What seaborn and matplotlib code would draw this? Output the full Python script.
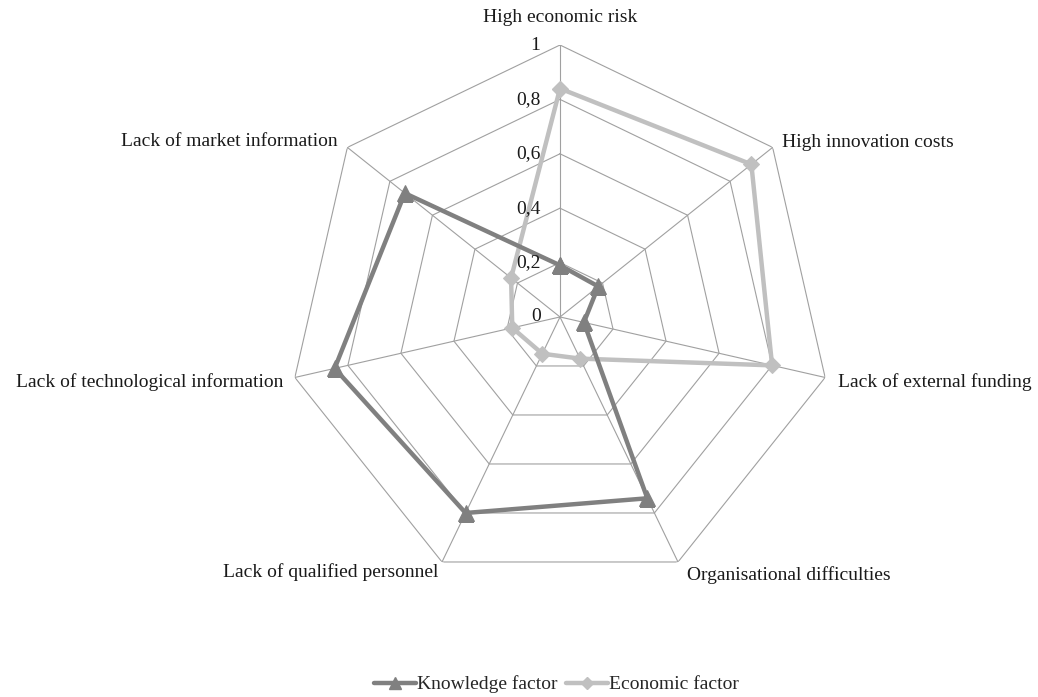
import numpy as np
import pandas as pd
import matplotlib
matplotlib.use("Agg")
import matplotlib.pyplot as plt
import seaborn as sns
from matplotlib.lines import Line2D

categories = ["High economic risk", "High innovation costs", "Lack of external funding",
              "Organisational difficulties", "Lack of qualified personnel",
              "Lack of technological information", "Lack of market information"]
knowledge = [0.19, 0.18, 0.09, 0.74, 0.80, 0.85, 0.73]
economic = [0.84, 0.90, 0.80, 0.17, 0.15, 0.18, 0.23]
series_names = ["Knowledge factor", "Economic factor"]
tick_values = [0, 0.2, 0.4, 0.6, 0.8, 1.0]
tick_labels = ["0", "0,2", "0,4", "0,6", "0,8", "1"]

sns.set_style("white")
plt.rcParams['font.family'] = ['Liberation Serif', 'DejaVu Serif']

n = len(categories)
angles = np.linspace(0, 2 * np.pi, n, endpoint=False)
ang_closed = np.append(angles, angles[0] + 2 * np.pi)

rows = []
for name, vals in zip(series_names, [knowledge, economic]):
    closed = list(vals) + [vals[0]]
    for i, (a, v) in enumerate(zip(ang_closed, closed)):
        rows.append({"series": name, "theta": a, "value": v, "order": i})
df = pd.DataFrame(rows)

fig = plt.figure(figsize=(10.38, 6.97), dpi=100)
ax = fig.add_axes([0.2775, 0.155, 0.524, 0.7805], projection='polar')
ax.set_theta_zero_location('N')
ax.set_theta_direction(-1)
ax.set_ylim(0, 1)
ax.grid(False)
ax.spines['polar'].set_visible(False)

grid_c = "#a0a0a0"
for lv in tick_values[1:]:
    ax.plot(ang_closed, [lv] * (n + 1), color=grid_c, lw=0.8, zorder=1)
for a in angles:
    ax.plot([a, a], [0, 1], color=grid_c, lw=0.8, zorder=1)

colors = {"Knowledge factor": "#808080", "Economic factor": "#c0c0c0"}
markers = {"Knowledge factor": "^", "Economic factor": "D"}
sizes = {"Knowledge factor": 11, "Economic factor": 8}
for name in series_names:
    sub = df[df.series == name]
    sns.lineplot(data=sub, x="theta", y="value", sort=False, ax=ax, color=colors[name],
                 lw=3.2, marker=markers[name], markersize=sizes[name],
                 markeredgecolor=colors[name], zorder=3 if name == "Knowledge factor" else 2,
                 legend=False)
ax.set_xlabel("")
ax.set_ylabel("")
ax.set_xticks([])
ax.set_yticks([])
ax.set_ylim(0, 1)

fs = 14
for v, t in zip(tick_values, tick_labels):
    ax.annotate(t, xy=(0, v), xytext=(-14, 0), textcoords='offset points',
                ha='right', va='center', fontsize=fs, color='#1a1a1a')

offsets = [((0, 19.5), 'center', 'center'),
           ((7, 3.5), 'left', 'center'),
           ((9, -3), 'left', 'center'),
           ((6.5, -9.5), 'left', 'center'),
           ((-2.5, -7.5), 'right', 'center'),
           ((-8.5, -3), 'right', 'center'),
           ((-7, 4), 'right', 'center')]
for a, cat, (off, ha, va) in zip(angles, categories, offsets):
    ax.annotate(cat, xy=(a, 1), xytext=off, textcoords='offset points',
                ha=ha, va=va, fontsize=fs, color='#1a1a1a')

handles = [Line2D([0], [0], color=colors[s], lw=3.2, marker=markers[s],
                  markersize=sizes[s] - 2, markeredgecolor=colors[s]) for s in series_names]
fig.legend(handles, series_names, loc='center', bbox_to_anchor=(0.536, 0.018),
           ncol=2, frameon=False, fontsize=fs, handlelength=2.2, handletextpad=0.05,
           columnspacing=0.4)

fig.savefig("out.png", dpi=100)
